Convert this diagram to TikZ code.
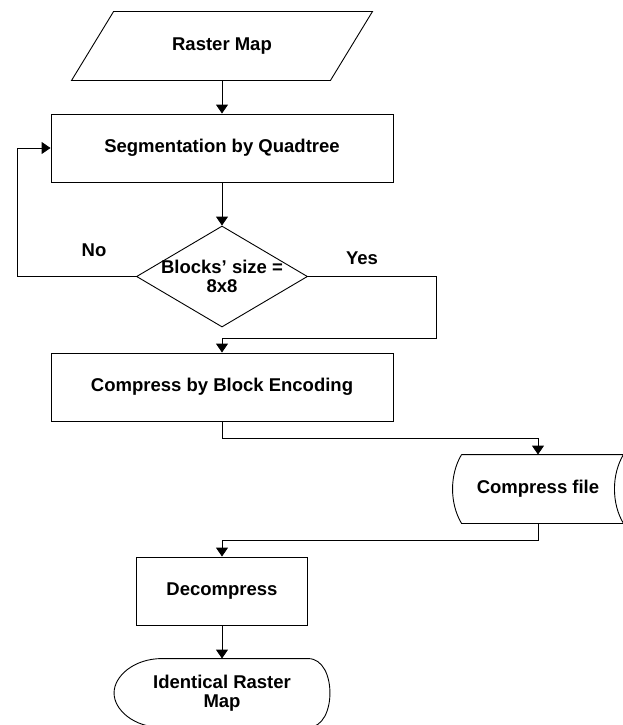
\documentclass[tikz,border=0pt]{standalone}
\usepackage{fontspec}
\setmainfont{Liberation Sans}
\usetikzlibrary{shapes.geometric,arrows.meta,calc}

\begin{document}
\begin{tikzpicture}[x=1pt,y=-1pt,
  line width=0.9pt,
  every node/.style={font=\bfseries\fontsize{18.5}{19.5}\selectfont},
  procbox/.style={draw, rectangle, minimum height=68pt, inner sep=0pt},
  holder/.style={draw=none, rectangle, minimum height=68pt, inner sep=0pt},
  decision/.style={draw, diamond, minimum width=171pt, minimum height=101pt, inner sep=0pt},
  arr/.style={-{Triangle[width=12pt,length=9pt]}},
]
\useasboundingbox (0,0) rectangle (623,725);

% input: parallelogram
\node[holder, minimum width=300pt] (raster) at (222,46) {Raster Map};
\draw ($(raster.north west)+(42,0)$) -- (raster.north east)
      -- ($(raster.south east)+(-42,0)$) -- (raster.south west) -- cycle;

% segmentation step
\node[procbox, minimum width=342pt] (seg) at (222,148) {Segmentation by Quadtree};

% decision
\node[decision] (dec) at (222,276.5) {};
\node[align=center] (dectext) at (dec.center) {Blocks’ size =\\8x8};

% encoding step
\node[procbox, minimum width=342pt] (comp) at (222,387) {Compress by Block Encoding};

% stored data
\node[holder, minimum width=170pt] (file) at (538,489) {Compress file};
\draw ($(file.north west)+(9,0)$) -- (file.north east)
      .. controls ($(file.north east)+(-12,20)$) and ($(file.south east)+(-12,-20)$) .. (file.south east)
      -- ($(file.south west)+(9,0)$)
      .. controls ($(file.south west)+(-3,-20)$) and ($(file.north west)+(-3,20)$) .. ($(file.north west)+(9,0)$);

% decompression step
\node[procbox, minimum width=171pt] (decomp) at (222,591) {Decompress};

% output: display shape
\node[holder, minimum width=215pt, align=center] (ident) at (222,693) {Identical Raster\\Map};
\draw ($(ident.north west)+(48,0)$) -- ($(ident.north east)+(-22,0)$)
      .. controls ($(ident.north east)+(-7,0)$) and ($(ident.east)+(0,-17)$) .. (ident.east)
      .. controls ($(ident.east)+(0,17)$) and ($(ident.south east)+(-7,0)$) .. ($(ident.south east)+(-22,0)$)
      -- ($(ident.south west)+(48,0)$)
      .. controls ($(ident.south west)+(20,0)$) and ($(ident.west)+(0,17)$) .. (ident.west)
      .. controls ($(ident.west)+(0,-17)$) and ($(ident.north west)+(20,0)$) .. ($(ident.north west)+(48,0)$);

% branch labels
\node (no) at (94,250) {No};
\node (yes) at (362,258) {Yes};

% routing points
\coordinate (loopL) at (17,0);
\coordinate (yesR) at (436,338);
\coordinate (j1) at (0,438);
\coordinate (j2) at (0,540);

% connectors
\draw[arr] (raster.south) -- (seg.north);
\draw[arr] (seg.south) -- (dec.north);
\draw[arr] (dec.west) -- (dec.west -| loopL) -- (seg.west -| loopL) -- (seg.west);
\draw[arr] (dec.east) -| (yesR) -- (yesR -| comp.north) -- (comp.north);
\draw[arr] (comp.south) -- (comp.south |- j1) -| (file.north);
\draw[arr] (file.south) -- (file.south |- j2) -| (decomp.north);
\draw[arr] (decomp.south) -- (ident.north);
\end{tikzpicture}
\end{document}
